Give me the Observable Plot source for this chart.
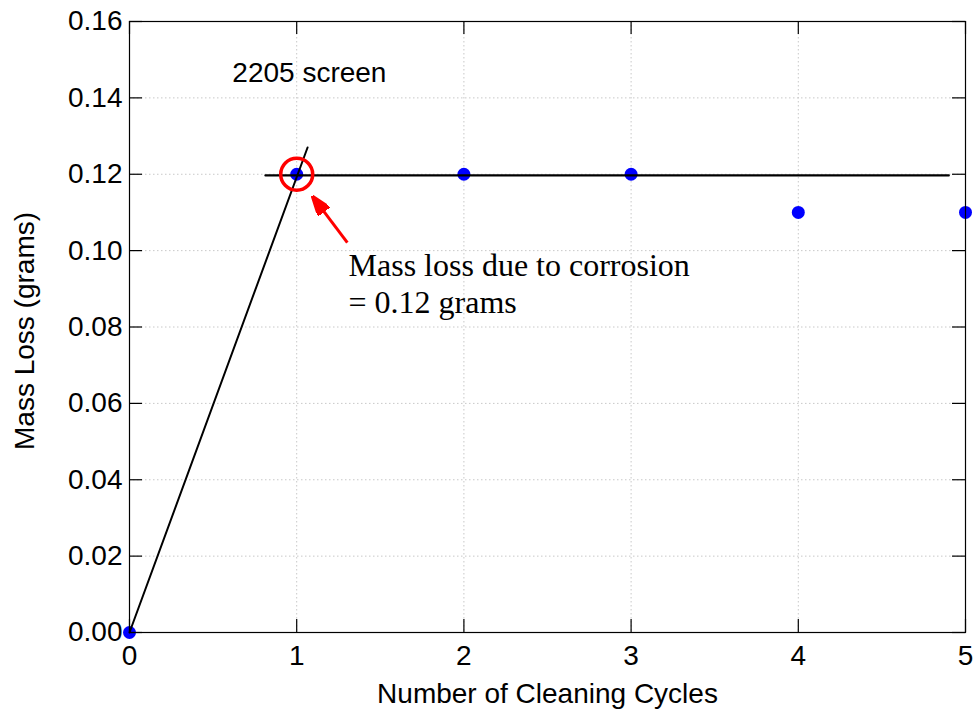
<!DOCTYPE html>
<html>
<head>
<meta charset="utf-8">
<script src="https://cdn.jsdelivr.net/npm/d3@7"></script>
<script src="https://cdn.jsdelivr.net/npm/@observablehq/plot@0.6"></script>
<style>
  html, body { margin: 0; padding: 0; background: #fff; }
  #chart svg { display: block; }
</style>
</head>
<body>
<div id="chart"></div>
<script>
// Data
const cycles = [0, 1, 2, 3, 4, 5];
const massLoss = [0.00, 0.12, 0.12, 0.12, 0.11, 0.11];
const xTicks = [0, 1, 2, 3, 4, 5];
const yTicks = [0, 0.02, 0.04, 0.06, 0.08, 0.10, 0.12, 0.14, 0.16];

// Fitted lines
const slopeX = [0, 1.065];
const slopeY = [0, 0.127];
const plateauX = [0.813, 4.90];
const plateauY = [0.1197, 0.1197];

// Annotations
const circleX = [1];
const circleY = [0.12];
const arrowFrom = [1.303, 0.1021];
const arrowTo = [1.100, 0.1139];
const noteLines = ["Mass loss due to corrosion", "= 0.12 grams"];
const noteX = [1.31, 1.31];
const noteY = [0.0961, 0.0864];
const seriesLabel = ["2205 screen"];
const seriesLabelX = [0.615];
const seriesLabelY = [0.1466];
const xLabel = "Number of Cleaning Cycles";
const yLabel = "Mass Loss (grams)";

const points = cycles.map((c, i) => ({x: c, y: massLoss[i]}));
const slope = slopeX.map((x, i) => ({x, y: slopeY[i]}));
const plateau = plateauX.map((x, i) => ({x, y: plateauY[i]}));
const notes = noteLines.map((t, i) => ({t, x: noteX[i], y: noteY[i]}));

const W = 978, H = 726;
const mL = 129, mR = 13, mT = 21, mB = 94;
const frameW = W - mL - mR, frameH = H - mT - mB;
const tickLen = 13;

function filledArrow(color, context) {
  return d3.create("svg:marker")
    .attr("viewBox", "0 -7 20 14")
    .attr("markerWidth", 20)
    .attr("markerHeight", 14)
    .attr("markerUnits", "userSpaceOnUse")
    .attr("refX", 18)
    .attr("refY", 0)
    .attr("orient", "auto")
    .attr("fill", color)
    .call(m => m.append("path").attr("d", "M0,-7L20,0L0,7Z"))
    .node();
}

const font = "Arial, 'Liberation Sans', sans-serif";

const chart = Plot.plot({
  width: W,
  height: H,
  marginLeft: mL,
  marginRight: mR,
  marginTop: mT,
  marginBottom: mB,
  style: {fontFamily: font, fontSize: "28px", color: "#000", background: "#fff"},
  x: {domain: [0, 5]},
  y: {domain: [0, 0.16]},
  marks: [
    Plot.gridX(xTicks, {stroke: "#c8c8c8", strokeOpacity: 1, strokeDasharray: "1.5,2.5"}),
    Plot.gridY(yTicks, {stroke: "#c8c8c8", strokeOpacity: 1, strokeDasharray: "1.5,2.5"}),
    Plot.dot(points, {x: "x", y: "y", r: 6.5, fill: "#0000ff"}),
    Plot.line(slope, {x: "x", y: "y", stroke: "#000", strokeWidth: 2}),
    Plot.line(plateau, {x: "x", y: "y", stroke: "#000", strokeWidth: 2.2}),
    Plot.dot(circleX.map((x, i) => ({x, y: circleY[i]})), {x: "x", y: "y", r: 16, stroke: "#ff0000", strokeWidth: 3.5, fill: "none"}),
    Plot.link([{x1: arrowFrom[0], y1: arrowFrom[1], x2: arrowTo[0], y2: arrowTo[1]}],
      {x1: "x1", y1: "y1", x2: "x2", y2: "y2", stroke: "#ff0000", strokeWidth: 3, markerEnd: filledArrow}),
    Plot.text(notes, {x: "x", y: "y", text: "t", textAnchor: "start", fontFamily: "'Liberation Serif', 'Times New Roman', serif", fontSize: 32, fill: "#000"}),
    Plot.text(seriesLabel, {x: seriesLabelX, y: seriesLabelY, text: d => d, textAnchor: "start", fontSize: 28, fill: "#000"}),
    Plot.frame({stroke: "#000", strokeWidth: 1.2}),
    // inward ticks on all four sides
    Plot.tickX(xTicks, {x: d => d, insetTop: frameH - tickLen, stroke: "#000", strokeWidth: 1.2}),
    Plot.tickX(xTicks, {x: d => d, insetBottom: frameH - tickLen, stroke: "#000", strokeWidth: 1.2}),
    Plot.tickY(yTicks, {y: d => d, insetRight: frameW - tickLen, stroke: "#000", strokeWidth: 1.2}),
    Plot.tickY(yTicks, {y: d => d, insetLeft: frameW - tickLen, stroke: "#000", strokeWidth: 1.2}),
    Plot.axisX(xTicks, {tickSize: 0, tickPadding: 13, label: null, tickFormat: d => String(d)}),
    Plot.axisY(yTicks, {tickSize: 0, tickPadding: 7, label: null, tickFormat: d3.format(".2f")}),
    Plot.text([xLabel], {frameAnchor: "bottom", lineAnchor: "middle", textAnchor: "middle", dy: 62, text: d => d, fontSize: 28, fill: "#000"}),
    Plot.text([yLabel], {frameAnchor: "left", lineAnchor: "middle", textAnchor: "middle", dx: -104, dy: 4, rotate: -90, text: d => d, fontSize: 28, fill: "#000"})
  ]
});

document.getElementById("chart").appendChild(chart);
</script>
</body>
</html>
